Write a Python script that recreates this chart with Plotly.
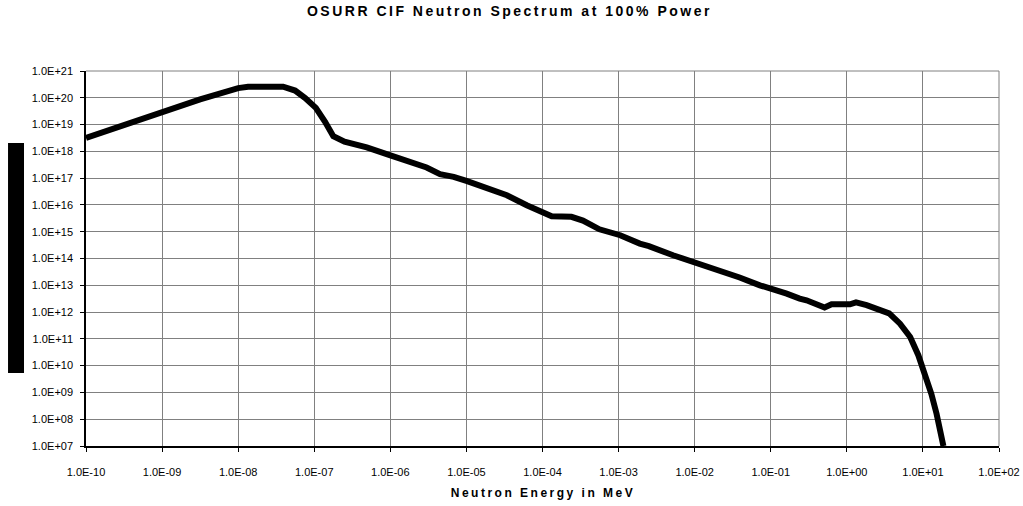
import plotly.graph_objects as go

# Neutron energy (MeV) and flux values
energy_mev = [
    1.0e-10, 1.0e-09, 3.16e-09, 1.0e-08, 1.35e-08, 3.9e-08, 5.6e-08, 7.6e-08,
    1.05e-07, 1.38e-07, 1.78e-07, 2.5e-07, 4.0e-07, 4.9e-07, 9.8e-07,
    1.82e-06, 3.0e-06, 4.5e-06, 6.8e-06, 1.0e-05, 1.86e-05, 3.4e-05,
    6.2e-05, 1.12e-04, 1.32e-04, 2.4e-04, 3.4e-04, 5.6e-04, 1.05e-03,
    1.9e-03, 2.5e-03, 5.2e-03, 7.1e-03, 1.17e-02, 2.1e-02, 3.9e-02,
    7.2e-02, 1.2e-01, 1.62e-01, 2.4e-01, 2.95e-01, 5.1e-01, 6.3e-01,
    1.1e+00, 1.32e+00, 1.82e+00, 2.7e+00, 3.6e+00, 5.0e+00, 6.8e+00,
    8.7e+00, 1.07e+01, 1.29e+01, 1.51e+01, 1.74e+01, 1.86e+01,
]
flux = [
    3.16e18, 3.0e19, 8.7e19, 2.3e20, 2.6e20, 2.6e20, 1.86e20, 9.8e19,
    4.2e19, 1.29e19, 3.7e18, 2.3e18, 1.7e18, 1.41e18, 7.2e17,
    4.1e17, 2.5e17, 1.41e17, 1.12e17, 7.9e16, 4.2e16, 2.3e16,
    9.8e15, 5.1e15, 3.8e15, 3.6e15, 2.6e15, 1.23e15, 7.4e14,
    3.6e14, 2.9e14, 1.32e14, 1.0e14, 6.5e13, 3.6e13, 1.95e13,
    1.0e13, 6.6e12, 4.9e12, 3.2e12, 2.75e12, 1.48e12, 1.95e12,
    1.95e12, 2.3e12, 1.82e12, 1.26e12, 8.9e11, 3.7e11, 1.17e11,
    2.45e10, 5.0e9, 8.9e8, 1.62e8, 2.9e7, 1.0e7,
]

x_tick_vals = [1e-10, 1e-9, 1e-8, 1e-7, 1e-6, 1e-5, 1e-4, 1e-3, 1e-2, 1e-1, 1e0, 1e1, 1e2]
x_tick_text = ["1.0E-10", "1.0E-09", "1.0E-08", "1.0E-07", "1.0E-06", "1.0E-05",
               "1.0E-04", "1.0E-03", "1.0E-02", "1.0E-01", "1.0E+00", "1.0E+01", "1.0E+02"]
y_tick_vals = [10.0 ** p for p in range(7, 22)]
y_tick_text = ["1.0E+%02d" % p for p in range(7, 22)]

TITLE = "OSURR CIF Neutron Spectrum at 100% Power"
X_TITLE = "Neutron Energy in MeV"

FONT = "Liberation Sans, Arial, sans-serif"

fig = go.Figure()
fig.add_trace(go.Scatter(
    x=energy_mev, y=flux, mode="lines",
    line=dict(color="black", width=6),
    showlegend=False, hoverinfo="x+y",
))

fig.update_layout(
    width=1023, height=506, autosize=False,
    margin=dict(l=86, r=24, t=71, b=60, autoexpand=False),
    paper_bgcolor="white", plot_bgcolor="white",
    font=dict(family=FONT, color="black", size=11),
    title=dict(
        text="<b>" + TITLE + "</b>",
        x=0.498, xanchor="center", xref="container",
        y=1 - 11.5 / 506, yanchor="middle", yref="container",
        font=dict(family=FONT, size=14, color="black"),
    ),
    xaxis=dict(
        type="log", range=[-10, 2], automargin=False,
        tickvals=x_tick_vals, ticktext=x_tick_text,
        tickfont=dict(family=FONT, size=11, color="black"),
        ticks="outside", ticklen=4, tickcolor="black", ticklabelstandoff=11,
        showgrid=True, gridcolor="#808080", gridwidth=1,
        showline=True, linecolor="black", linewidth=1.5,
        zeroline=False,
    ),
    yaxis=dict(
        type="log", range=[7, 21], automargin=False,
        tickvals=y_tick_vals, ticktext=y_tick_text,
        tickfont=dict(family=FONT, size=11, color="black"),
        ticks="outside", ticklen=4, tickcolor="black", ticklabelstandoff=5,
        showgrid=True, gridcolor="#808080", gridwidth=1,
        showline=True, linecolor="black", linewidth=1.5,
        zeroline=False,
    ),
    annotations=[
        dict(text="<b>" + X_TITLE + "</b>", xref="paper", yref="paper",
             x=0.5, y=-(492.5 - 446) / 375, xanchor="center", yanchor="middle",
             showarrow=False, font=dict(family=FONT, size=12, color="black")),
    ],
    shapes=[
        dict(type="rect", xref="paper", yref="paper",
             x0=-0.0854, x1=-0.0679, y0=0.195, y1=0.808,
             fillcolor="black", line=dict(width=0)),
        dict(type="line", xref="paper", yref="paper",
             x0=1, x1=1, y0=0, y1=1, line=dict(color="#808080", width=1)),
        dict(type="line", xref="paper", yref="paper",
             x0=0, x1=1, y0=1, y1=1, line=dict(color="#808080", width=1)),
    ],
)

post = """
document.body.style.margin = '0';
document.body.style.overflow = 'hidden';
document.documentElement.style.overflow = 'hidden';
document.querySelectorAll('.gtitle, .annotation-text').forEach(function (el) {
    el.style.letterSpacing = '2.5px';
});
"""

fig.write_html("out.html", post_script=post,
               config={"responsive": False, "displayModeBar": False})
